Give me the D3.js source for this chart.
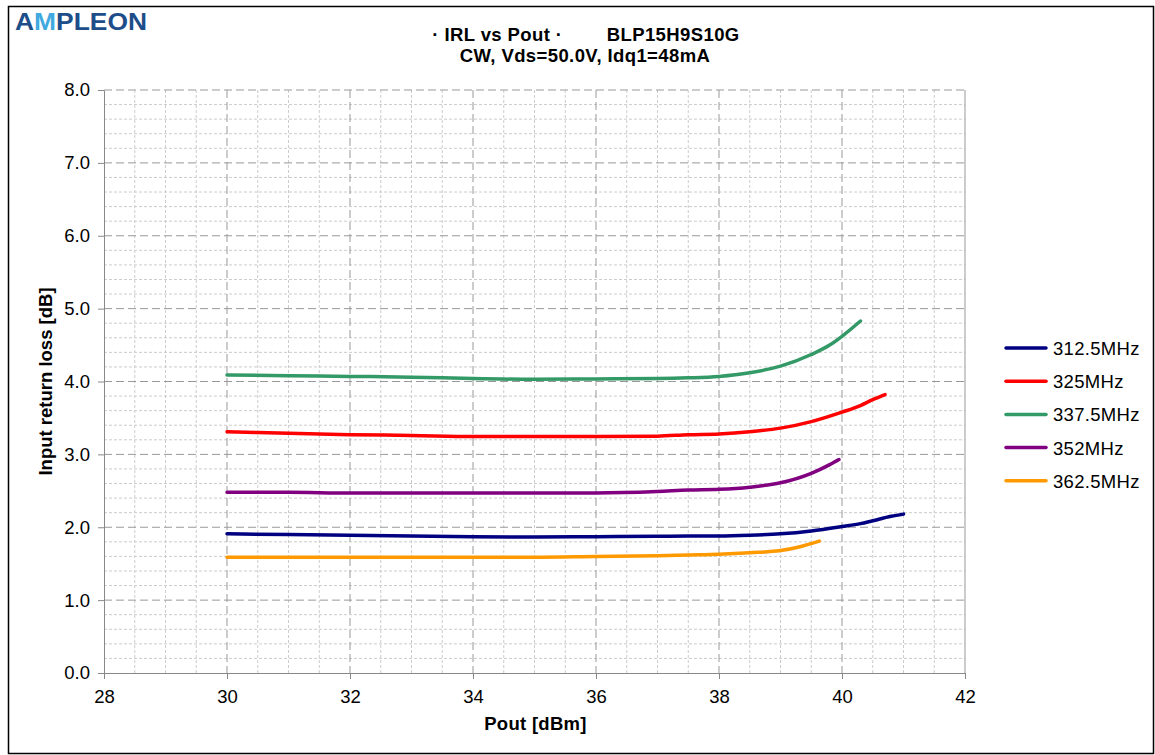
<!DOCTYPE html>
<html>
<head>
<meta charset="utf-8">
<script src="https://cdn.jsdelivr.net/npm/d3@7"></script>
<style>
  body { margin: 0; background: #fff; }
  text { font-family: "Liberation Sans", Arial, sans-serif; }
</style>
</head>
<body>
<svg width="1155" height="755"></svg>
<script>
// series data
var seriesNames = ["312.5MHz", "325MHz", "337.5MHz", "352MHz", "362.5MHz"];
var seriesColors = ["#000080", "#ff0000", "#339966", "#800080", "#ff9900"];

var pout312 = [30, 31, 32, 33, 34, 35, 36, 37, 37.5, 38, 38.5, 39, 39.5, 40, 40.3, 40.5, 40.8, 41];
var irl312 = [1.91, 1.90, 1.89, 1.88, 1.87, 1.865, 1.87, 1.875, 1.88, 1.88, 1.89, 1.91, 1.95, 2.01, 2.05, 2.09, 2.15, 2.18];

var pout325 = [30, 31, 32, 33, 34, 35, 36, 37, 37.5, 38, 38.5, 39, 39.5, 40, 40.3, 40.5, 40.7];
var irl325 = [3.31, 3.29, 3.27, 3.26, 3.245, 3.245, 3.245, 3.25, 3.27, 3.28, 3.31, 3.36, 3.45, 3.58, 3.67, 3.75, 3.82];

var pout337 = [30, 31, 32, 33, 34, 35, 36, 37, 37.5, 38, 38.5, 39, 39.5, 39.8, 40, 40.3];
var irl337 = [4.09, 4.08, 4.07, 4.06, 4.04, 4.03, 4.035, 4.04, 4.05, 4.07, 4.12, 4.21, 4.37, 4.50, 4.62, 4.83];

var pout352 = [30, 31, 32, 33, 34, 35, 36, 37, 37.5, 38, 38.5, 39, 39.5, 39.8, 39.95];
var irl352 = [2.48, 2.48, 2.47, 2.47, 2.47, 2.47, 2.47, 2.49, 2.51, 2.52, 2.55, 2.61, 2.74, 2.86, 2.93];

var pout362 = [30, 31, 32, 33, 34, 35, 36, 37, 37.5, 38, 38.5, 39, 39.3, 39.63];
var irl362 = [1.59, 1.59, 1.59, 1.59, 1.59, 1.59, 1.60, 1.61, 1.62, 1.63, 1.65, 1.68, 1.73, 1.81];

var xTicks = [28, 30, 32, 34, 36, 38, 40, 42];
var yTicks = [0, 1, 2, 3, 4, 5, 6, 7, 8];

var seriesX = [pout312, pout325, pout337, pout352, pout362];
var seriesY = [irl312, irl325, irl337, irl352, irl362];

var svg = d3.select('svg');
var margin = {top: 90, right: 190, bottom: 82, left: 104};
var width = 965 - margin.left;
var height = 673 - margin.top;

// outer frame
svg.append('rect')
  .attr('x', 8.5).attr('y', 6.5)
  .attr('width', 1145).attr('height', 747)
  .attr('fill', '#fff').attr('stroke', '#000').attr('stroke-width', 1.5);

// logo
var logo = svg.append('text')
  .attr('x', 15).attr('y', 30)
  .attr('font-family', '"DejaVu Sans", sans-serif')
  .attr('font-size', 23)
  .attr('font-weight', 'bold')
  .attr('textLength', 132)
  .attr('lengthAdjust', 'spacingAndGlyphs')
  .attr('fill', '#1d4e89');
logo.append('tspan').text('A');
logo.append('tspan').attr('fill', '#3fa9e0').text('M');
logo.append('tspan').text('PLEON');

// title
svg.append('text')
  .attr('x', 586).attr('y', 41)
  .attr('text-anchor', 'middle')
  .attr('font-size', 18.5).attr('font-weight', 'bold')
  .attr('letter-spacing', 0.4)
  .style('white-space', 'pre')
  .text('\u00b7 IRL vs Pout \u00b7        BLP15H9S10G');
svg.append('text')
  .attr('x', 585).attr('y', 62)
  .attr('text-anchor', 'middle')
  .attr('font-size', 18.5).attr('font-weight', 'bold')
  .attr('letter-spacing', 0.4)
  .text('CW, Vds=50.0V, Idq1=48mA');

var g = svg.append('g')
  .attr('transform', `translate(${margin.left},${margin.top})`);

var x = d3.scaleLinear().domain([28, 42]).range([0, width]);
var y = d3.scaleLinear().domain([0, 8]).range([height, 0]);

// minor grid
g.append('g').selectAll('line')
  .data(d3.range(28.5, 42, 0.5).filter(v => v % 2 !== 0))
  .enter().append('line')
  .attr('x1', d => x(d)).attr('x2', d => x(d))
  .attr('y1', 0).attr('y2', height)
  .attr('stroke', '#cccccc').attr('stroke-dasharray', '3,2');
g.append('g').selectAll('line')
  .data(d3.range(0.2, 8, 0.2).filter(v => Math.abs(v - Math.round(v)) > 0.01))
  .enter().append('line')
  .attr('x1', 0).attr('x2', width)
  .attr('y1', d => y(d)).attr('y2', d => y(d))
  .attr('stroke', '#cccccc').attr('stroke-dasharray', '3,2');

// major grid
g.append('g').selectAll('line')
  .data(xTicks.slice(1, -1))
  .enter().append('line')
  .attr('x1', d => x(d)).attr('x2', d => x(d))
  .attr('y1', 0).attr('y2', height)
  .attr('stroke', '#999').attr('stroke-dasharray', '8,4');
g.append('g').selectAll('line')
  .data(yTicks.slice(1))
  .enter().append('line')
  .attr('x1', 0).attr('x2', width)
  .attr('y1', d => y(d)).attr('y2', d => y(d))
  .attr('stroke', '#999').attr('stroke-dasharray', '8,4');

// plot border right
g.append('line')
  .attr('x1', width).attr('x2', width).attr('y1', 0).attr('y2', height)
  .attr('stroke', '#999');

// axes
var xAxis = g.append('g')
  .attr('transform', `translate(0,${height})`)
  .call(d3.axisBottom(x).tickValues(xTicks).tickSize(6).tickSizeOuter(0).tickPadding(8));
var yAxis = g.append('g')
  .call(d3.axisLeft(y).tickValues(yTicks).tickFormat(d3.format('.1f')).tickSize(6).tickSizeOuter(0).tickPadding(8));
[xAxis, yAxis].forEach(a => {
  a.selectAll('path, line').attr('stroke', '#888');
  a.selectAll('text').attr('font-size', 18.5).attr('fill', '#000')
    .attr('font-family', '"Liberation Sans", Arial, sans-serif');
});
xAxis.selectAll('text').attr('dy', '0.85em');

// axis titles
g.append('text')
  .attr('x', width / 2 + 1).attr('y', height + 57)
  .attr('text-anchor', 'middle')
  .attr('font-size', 18.5).attr('font-weight', 'bold')
  .attr('letter-spacing', 0.3)
  .text('Pout [dBm]');
g.append('text')
  .attr('transform', `translate(-52,${height / 2}) rotate(-90)`)
  .attr('text-anchor', 'middle')
  .attr('font-size', 18.5).attr('font-weight', 'bold')
  .text('Input return loss [dB]');

// lines
var line = d3.line()
  .x(d => x(d[0]))
  .y(d => y(d[1]))
  .curve(d3.curveMonotoneX);

seriesNames.forEach((name, i) => {
  var pts = seriesX[i].map((v, j) => [v, seriesY[i][j]]);
  g.append('path')
    .datum(pts)
    .attr('fill', 'none')
    .attr('stroke', seriesColors[i])
    .attr('stroke-width', 3.5)
    .attr('stroke-linecap', 'round')
    .attr('d', line);
});

// legend
var legend = svg.append('g').attr('transform', 'translate(1006,348)');
var rows = legend.selectAll('g')
  .data(seriesNames)
  .enter().append('g')
  .attr('transform', (d, i) => `translate(0,${i * 33.2})`);
rows.append('line')
  .attr('x1', 0).attr('x2', 40)
  .attr('stroke', (d, i) => seriesColors[i])
  .attr('stroke-width', 3.5).attr('stroke-linecap', 'round');
rows.append('text')
  .attr('x', 47).attr('y', 7)
  .attr('font-size', 18.5)
  .attr('letter-spacing', 0.3)
  .text(d => d);
</script>
</body>
</html>
